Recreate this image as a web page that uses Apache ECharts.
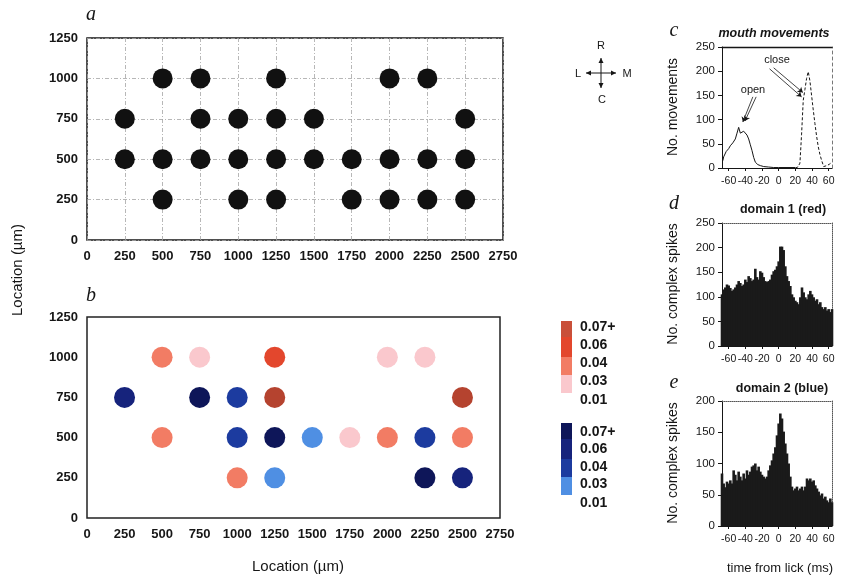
<!DOCTYPE html>
<html>
<head>
<meta charset="utf-8">
<title>Climbing fibre domains</title>
<script src="https://cdn.jsdelivr.net/npm/echarts@6/dist/echarts.min.js"></script>
<style>
  html, body { margin: 0; padding: 0; background: #fff; }
  #chart { width: 849px; height: 579px; }
</style>
</head>
<body>
<div id="chart"></div>
<script>
// ---- panel a: recording sites (x in µm per row) ----
const rowY = [1000, 750, 500, 250];
const rowSitesA = [
  [500, 750, 1250, 2000, 2250],
  [250, 750, 1000, 1250, 1500, 2500],
  [250, 500, 750, 1000, 1250, 1500, 1750, 2000, 2250, 2500],
  [500, 1000, 1250, 1750, 2000, 2250, 2500]
];

// ---- panel b: sites grouped by correlation level ----
const pinkSites = [[750, 1000], [2000, 1000], [2250, 1000], [1750, 500]];
const salmonSites = [[500, 1000], [500, 500], [2000, 500], [2500, 500], [1000, 250]];
const redSites = [[1250, 1000]];
const darkRedSites = [[1250, 750], [2500, 750]];
const lightBlueSites = [[1500, 500], [1250, 250]];
const blueSites = [[1000, 750], [1000, 500], [2250, 500]];
const navySites = [[250, 750], [2500, 250]];
const darkNavySites = [[750, 750], [1250, 500], [2250, 250]];

const redColors = ['#c9503a', '#e3472d', '#f27c64', '#fac8cd'];   // top -> bottom
const blueColors = ['#0e1659', '#16237c', '#1c3b9f', '#4f8fe3'];
const legendLabels = ['0.07+', '0.06', '0.04', '0.03', '0.01'];

// ---- panel c: mouth movements ----
const openPts = [[-67, 15], [-66, 23], [-63, 34], [-60, 40], [-58, 46], [-55, 52], [-52, 60], [-50, 72],
  [-48, 84], [-46, 72], [-44, 70], [-42, 76], [-40, 74], [-38, 68], [-36, 60], [-34, 48], [-32, 36],
  [-30, 22], [-28, 12], [-25, 7], [-22, 5], [-18, 3], [-12, 2], [-6, 1], [0, 1], [10, 1], [20, 1]];
const closePts = [[20, 0], [23, 2], [25.5, 10], [27.5, 70], [29.5, 140], [31.5, 162], [33.5, 185],
  [35.5, 199], [37.5, 180], [39.5, 150], [41.5, 120], [43.5, 92], [45.5, 66], [47.5, 44], [49.5, 28],
  [51.5, 16], [54, 3], [56, 3], [58, 5], [61, 8], [64, 12]];

// ---- panels d, e: complex spike histograms, 2 ms bins from -68 ms ----
const binStart = -68;
const binWidth = 2;
const domain1Counts = [105, 115, 119, 125, 123, 118, 112, 115, 119, 125, 132, 128, 122, 125, 135, 130,
  142, 138, 132, 135, 157, 140, 135, 152, 149, 140, 132, 130, 132, 135, 145, 152, 155, 162, 172, 202,
  202, 195, 162, 142, 132, 122, 105, 99, 92, 89, 85, 99, 119, 109, 99, 95, 105, 112, 105, 99, 92, 95,
  85, 89, 79, 75, 79, 72, 75, 69, 75];
const domain2Counts = [84, 68, 62, 71, 68, 73, 68, 89, 82, 73, 87, 79, 73, 84, 76, 89, 82, 87, 95, 97,
  100, 89, 95, 87, 82, 79, 76, 79, 89, 97, 105, 116, 126, 145, 164, 180, 172, 151, 132, 116, 100, 79,
  63, 57, 60, 63, 57, 60, 63, 57, 63, 76, 73, 76, 71, 73, 65, 60, 55, 49, 52, 44, 47, 41, 38, 44, 38];
const timeTicks = [-60, -40, -20, 0, 20, 40, 60];

const font = 'Arial, "Liberation Sans", sans-serif';
const ink = '#161616';
const plain = v => String(v);

function binned(counts) {
  return counts.map((v, i) => [binStart + binWidth * i, v]);
}

const locGrid = { show: true, lineStyle: { color: '#a5a5a5', width: 0.8, type: [4, 2, 1, 2] } };

function locX(grid) {
  return {
    type: 'value', gridIndex: grid, min: 0, max: 2750, interval: 250,
    axisLine: { show: false }, axisTick: { show: false },
    axisLabel: { color: ink, fontFamily: font, fontWeight: 'bold', fontSize: 13, margin: 10, formatter: plain },
    splitLine: grid === 0 ? locGrid : { show: false }
  };
}
function locY(grid) {
  return {
    type: 'value', gridIndex: grid, min: 0, max: 1250, interval: 250,
    axisLine: { show: false }, axisTick: { show: false },
    axisLabel: { color: ink, fontFamily: font, fontWeight: 'bold', fontSize: 13, margin: 9, formatter: plain },
    splitLine: grid === 0 ? locGrid : { show: false }
  };
}
function timeX(grid) {
  return {
    type: 'value', gridIndex: grid, min: -68, max: 64,
    axisLine: { onZero: false, lineStyle: { color: ink, width: 1 } },
    axisTick: { customValues: timeTicks, length: 3, lineStyle: { color: ink } },
    axisLabel: { customValues: timeTicks, color: ink, fontFamily: font, fontSize: 10.5, margin: 8 },
    splitLine: { show: false }
  };
}
function countY(grid, max) {
  return {
    type: 'value', gridIndex: grid, min: 0, max: max, interval: 50,
    axisLine: { show: true, onZero: false, lineStyle: { color: ink, width: 1 } },
    axisTick: { show: true, length: 4, lineStyle: { color: ink } },
    axisLabel: { color: ink, fontFamily: font, fontSize: 11.5, margin: 7 },
    splitLine: { show: false }
  };
}
function borderX(grid, min, max, style) {
  return { type: 'value', gridIndex: grid, min: min, max: max, position: 'top',
    axisLine: { show: true, onZero: false, lineStyle: style },
    axisTick: { show: false }, axisLabel: { show: false }, splitLine: { show: false } };
}
function borderY(grid, min, max, style) {
  return { type: 'value', gridIndex: grid, min: min, max: max, position: 'right',
    axisLine: { show: true, onZero: false, lineStyle: style },
    axisTick: { show: false }, axisLabel: { show: false }, splitLine: { show: false } };
}

function dots(data, color, size) {
  return { type: 'scatter', xAxisIndex: 1, yAxisIndex: 1, data: data, symbolSize: size,
    itemStyle: { color: color, opacity: 1 }, silent: true };
}

const sitesA = [];
rowSitesA.forEach((row, r) => row.forEach(x => sitesA.push([x, rowY[r]])));

const graphics = [];
function txt(x, y, text, fontStr, opts) {
  graphics.push(Object.assign({ type: 'text', x: x, y: y,
    style: { text: text, font: fontStr, fill: ink, align: 'center', verticalAlign: 'middle' } }, opts || {}));
}
// panel letters
const letterFont = 'italic 20px "Liberation Serif", "DejaVu Serif", serif';
txt(91, 15, 'a', letterFont);
txt(91, 296, 'b', letterFont);
txt(674, 31, 'c', letterFont);
txt(674, 204, 'd', letterFont);
txt(674, 383, 'e', letterFont);
// axis titles
txt(18, 270, 'Location (µm)', '15px ' + font, { rotation: Math.PI / 2 });
txt(298, 567, 'Location (µm)', '15px ' + font);
txt(673, 107, 'No. movements', '14px ' + font, { rotation: Math.PI / 2 });
txt(673, 284, 'No. complex spikes', '14px ' + font, { rotation: Math.PI / 2 });
txt(673, 463, 'No. complex spikes', '14px ' + font, { rotation: Math.PI / 2 });
txt(780, 568, 'time from lick (ms)', '13px ' + font);
// panel titles
txt(774, 34, 'mouth movements', 'italic bold 12.5px ' + font);
txt(783, 210, 'domain 1 (red)', 'bold 12.5px ' + font);
txt(782, 389, 'domain 2 (blue)', 'bold 12.5px ' + font);
txt(753, 90, 'open', '11px ' + font);
txt(777, 60, 'close', '11px ' + font);

// compass
const cx = 601, cy = 73;
[[0, -15], [0, 15], [-15, 0], [15, 0]].forEach(d => {
  graphics.push({ type: 'line', shape: { x1: cx, y1: cy, x2: cx + d[0], y2: cy + d[1] },
    style: { stroke: ink, lineWidth: 1 } });
  const ex = cx + d[0], ey = cy + d[1];
  const ux = Math.sign(d[0]), uy = Math.sign(d[1]);
  graphics.push({ type: 'polygon', shape: { points: [[ex, ey], [ex - ux * 5 - uy * 2.5, ey - uy * 5 - ux * 2.5],
    [ex - ux * 5 + uy * 2.5, ey - uy * 5 + ux * 2.5]] }, style: { fill: ink } });
});
txt(cx, 46, 'R', '11px ' + font);
txt(cx + 1, 100, 'C', '11px ' + font);
txt(578, 74, 'L', '11px ' + font);
txt(627, 74, 'M', '11px ' + font);

// colour key for panel b
function key(top, colors) {
  const h = [16, 20, 18, 18];
  let y = top;
  colors.forEach((c, i) => {
    graphics.push({ type: 'rect', shape: { x: 561, y: y, width: 11, height: h[i] }, style: { fill: c } });
    y += h[i];
  });
}
key(321, redColors);
key(423, blueColors);
[327, 345, 363, 381, 400].forEach((y, i) =>
  graphics.push({ type: 'text', x: 580, y: y, style: { text: legendLabels[i], font: 'bold 14px ' + font,
    fill: ink, align: 'left', verticalAlign: 'middle' } }));
[432, 449, 467, 484, 503].forEach((y, i) =>
  graphics.push({ type: 'text', x: 580, y: y, style: { text: legendLabels[i], font: 'bold 14px ' + font,
    fill: ink, align: 'left', verticalAlign: 'middle' } }));

const arrowLine = { color: ink, width: 0.8, type: 'solid' };

const option = {
  backgroundColor: '#fff',
  animation: false,
  grid: [
    { left: 87, top: 38, width: 416, height: 202, show: true, borderColor: ink, borderWidth: 1.5 },
    { left: 87, top: 317, width: 413, height: 201, show: true, borderColor: '#222', borderWidth: 1.5 },
    { left: 722, top: 47, width: 110, height: 121 },
    { left: 722, top: 223, width: 110, height: 123 },
    { left: 722, top: 401, width: 110, height: 125 }
  ],
  xAxis: [
    locX(0), locX(1), timeX(2), timeX(3), timeX(4),
    borderX(2, -68, 64, { color: ink, width: 1.3 }),
    borderX(3, -68, 64, { color: '#555', width: 1, type: 'dotted' }),
    borderX(4, -68, 64, { color: '#555', width: 1, type: 'dotted' })
  ],
  yAxis: [
    locY(0), locY(1), countY(2, 250), countY(3, 250), countY(4, 200),
    borderY(2, 0, 250, { color: '#777', width: 1, type: [3, 3] }),
    borderY(3, 0, 250, { color: '#555', width: 1, type: 'dotted' }),
    borderY(4, 0, 200, { color: '#555', width: 1, type: 'dotted' })
  ],
  series: [
    { type: 'scatter', xAxisIndex: 0, yAxisIndex: 0, data: sitesA, symbolSize: 20,
      itemStyle: { color: '#111', opacity: 1 }, silent: true },
    dots(pinkSites, redColors[3], 21),
    dots(salmonSites, redColors[2], 21),
    dots(redSites, redColors[1], 21),
    dots(darkRedSites, '#b5432f', 21),
    dots(lightBlueSites, blueColors[3], 21),
    dots(blueSites, blueColors[2], 21),
    dots(navySites, blueColors[1], 21),
    dots(darkNavySites, blueColors[0], 21),
    { name: 'open', type: 'line', xAxisIndex: 2, yAxisIndex: 2, data: openPts, showSymbol: false,
      lineStyle: { color: ink, width: 1 }, silent: true,
      markLine: { silent: true, symbol: ['none', 'arrow'], symbolSize: 5, label: { show: false },
        lineStyle: arrowLine,
        data: [
          [{ coord: [-31, 147] }, { coord: [-43, 95] }],
          [{ coord: [-27, 147] }, { coord: [-40.5, 97] }]
        ] } },
    { name: 'close', type: 'line', xAxisIndex: 2, yAxisIndex: 2, data: closePts, showSymbol: false,
      lineStyle: { color: ink, width: 1, type: [3, 2] }, silent: true,
      markLine: { silent: true, symbol: ['none', 'arrow'], symbolSize: 5, label: { show: false },
        lineStyle: arrowLine,
        data: [
          [{ coord: [-11, 205] }, { coord: [27.5, 147] }],
          [{ coord: [-6, 207] }, { coord: [29, 156] }]
        ] } },
    { type: 'bar', xAxisIndex: 3, yAxisIndex: 3, data: binned(domain1Counts), barWidth: 2.6,
      itemStyle: { color: '#1a1a1a' }, silent: true },
    { type: 'bar', xAxisIndex: 4, yAxisIndex: 4, data: binned(domain2Counts), barWidth: 2.6,
      itemStyle: { color: '#1a1a1a' }, silent: true }
  ],
  graphic: graphics
};

const chart = echarts.init(document.getElementById('chart'));
chart.setOption(option);
</script>
</body>
</html>
